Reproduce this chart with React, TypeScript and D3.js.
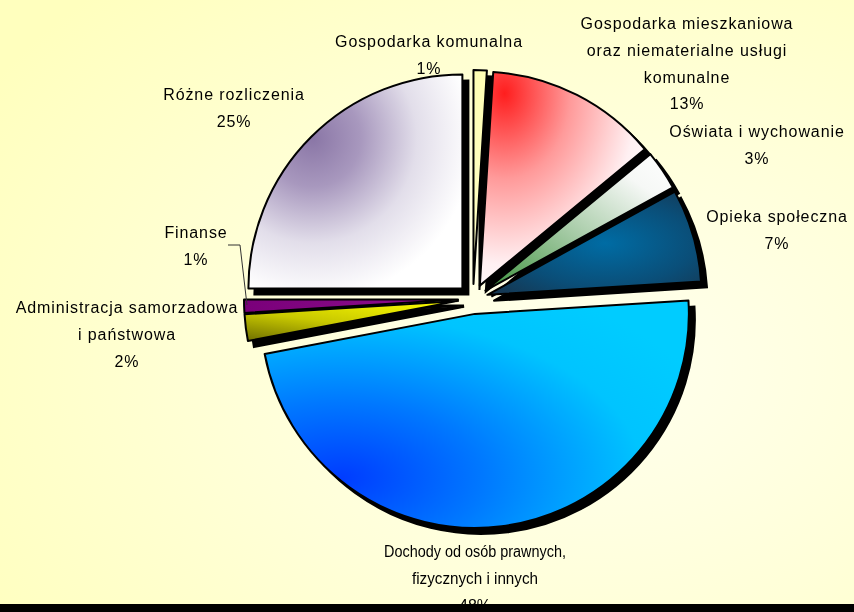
import React from "react";
import * as d3 from "d3";

const categories = [
  "Gospodarka komunalna",
  "Gospodarka mieszkaniowa oraz niematerialne usługi komunalne",
  "Oświata i wychowanie",
  "Opieka społeczna",
  "Dochody od osób prawnych, fizycznych i innych",
  "Administracja samorzadowa i państwowa",
  "Finanse",
  "Różne rozliczenia",
];
const values = [1, 13, 3, 7, 48, 2, 1, 25];
const labelLines = [
  ["Gospodarka komunalna", "1%"],
  ["Gospodarka mieszkaniowa", "oraz niematerialne usługi", "komunalne", "13%"],
  ["Oświata i wychowanie", "3%"],
  ["Opieka społeczna", "7%"],
  ["Dochody od osób prawnych,", "fizycznych i innych", "48%"],
  ["Administracja samorzadowa", "i państwowa", "2%"],
  ["Finanse", "1%"],
  ["Różne rozliczenia", "25%"],
];

// layout (not data)
const W = 854;
const H = 612;
const CX = 473;
const CY = 299;
const R = 214;
const EXPLODE = 15;
const labelPos: [number, number][] = [
  [429, 47],
  [687, 29],
  [757, 137],
  [777, 222],
  [475, 557],
  [127, 313],
  [196, 238],
  [234, 100],
];
const gradIds = ["gKom", "gMie", "gOsw", "gOpi", "gDoc", "gAdm", "gFin", "gRoz"];

export default function App() {
  const pie = d3
    .pie<number>()
    .sort(null)
    .value((d) => d)
    .startAngle(0)
    .endAngle(2 * Math.PI);
  const arcs = pie(values);
  const arc = d3.arc<d3.PieArcDatum<number>>().innerRadius(0).outerRadius(R);

  const offset = (a: d3.PieArcDatum<number>) => {
    const m = (a.startAngle + a.endAngle) / 2;
    return [CX + EXPLODE * Math.sin(m), CY - EXPLODE * Math.cos(m)];
  };

  return (
    <svg
      width={W}
      height={H}
      style={{ position: "fixed", left: 0, top: 0, display: "block" }}
      fontFamily="'Liberation Sans', Arial, sans-serif"
    >
      <defs>
        <radialGradient id="bg" cx="0.7" cy="0.6" r="0.85">
          <stop offset="0" stopColor="#FFFFEE" />
          <stop offset="0.5" stopColor="#FFFFD8" />
          <stop offset="1" stopColor="#FFFFBE" />
        </radialGradient>
        <linearGradient id="gKom" x1="0" y1="0" x2="0" y2="1">
          <stop offset="0" stopColor="#FFFFB4" />
          <stop offset="1" stopColor="#FFFFC8" />
        </linearGradient>
        <radialGradient id="gMie" cx="0.15" cy="0.1" r="1.0">
          <stop offset="0" stopColor="#FF1E1E" />
          <stop offset="0.4" stopColor="#FF9A9A" />
          <stop offset="0.8" stopColor="#FFF0F2" />
          <stop offset="1" stopColor="#FFFFFF" />
        </radialGradient>
        <linearGradient id="gOsw" x1="0" y1="1" x2="1" y2="0">
          <stop offset="0" stopColor="#3C923C" />
          <stop offset="0.45" stopColor="#A8CCA8" />
          <stop offset="0.8" stopColor="#F6F8F6" />
          <stop offset="1" stopColor="#FFFFFF" />
        </linearGradient>
        <radialGradient id="gOpi" cx="0.55" cy="0.5" r="0.7">
          <stop offset="0" stopColor="#006CA4" />
          <stop offset="0.6" stopColor="#0A4E78" />
          <stop offset="1" stopColor="#163650" />
        </radialGradient>
        <radialGradient id="gDoc" cx="0.18" cy="0.78" r="0.95">
          <stop offset="0" stopColor="#003CFF" />
          <stop offset="0.35" stopColor="#0078FF" />
          <stop offset="0.75" stopColor="#00C4FF" />
          <stop offset="1" stopColor="#00CCFF" />
        </radialGradient>
        <linearGradient id="gAdm" x1="0.7" y1="0" x2="0" y2="1">
          <stop offset="0" stopColor="#F4F400" />
          <stop offset="0.5" stopColor="#C8C800" />
          <stop offset="1" stopColor="#6E6E00" />
        </linearGradient>
        <linearGradient id="gFin" x1="0" y1="0" x2="1" y2="0">
          <stop offset="0" stopColor="#7A007A" />
          <stop offset="1" stopColor="#8E108E" />
        </linearGradient>
        <radialGradient id="gRoz" cx="0.3" cy="0.3" r="0.75">
          <stop offset="0" stopColor="#8A76A6" />
          <stop offset="0.3" stopColor="#A898BE" />
          <stop offset="0.65" stopColor="#E2DEEA" />
          <stop offset="1" stopColor="#FFFFFF" />
        </radialGradient>
      </defs>
      <rect x={0} y={0} width={W} height={H} fill="url(#bg)" />

      {/* shadows */}
      {arcs.map((a, i) => {
        const [x, y] = offset(a);
        return (
          <path
            key={"s" + i}
            d={arc(a) || ""}
            transform={`translate(${x + 6},${y + 6})`}
            fill="#000"
            stroke="#000"
            strokeWidth={2}
          />
        );
      })}
      {/* slices */}
      {arcs.map((a, i) => {
        const [x, y] = offset(a);
        return (
          <path
            key={"p" + i}
            d={arc(a) || ""}
            transform={`translate(${x},${y})`}
            fill={`url(#${gradIds[i]})`}
            stroke="#000"
            strokeWidth={2}
            strokeLinejoin="round"
          >
            <title>{categories[i]}</title>
          </path>
        );
      })}

      {/* leader line for Finanse */}
      <polyline
        points="228,245 240,245 247,305"
        fill="none"
        stroke="#333"
        strokeWidth={1}
      />

      {/* labels */}
      {labelLines.map((lines, i) => (
        <text
          key={"t" + i}
          fontSize={16}
          letterSpacing={i === 4 ? 0 : 0.9}
          fill="#000"
          textAnchor="middle"
        >
          {lines.map((ln, j) => (
            <tspan
              key={j}
              x={labelPos[i][0]}
              y={labelPos[i][1] + j * 26.8}
              {...(i === 4 && j < 2
                ? {
                    textLength: j === 0 ? 182 : 126,
                    lengthAdjust: "spacingAndGlyphs",
                    x: labelPos[i][0] - (j === 0 ? 91 : 63),
                    textAnchor: "start",
                  }
                : {})}
            >
              {ln}
            </tspan>
          ))}
        </text>
      ))}

      <rect x={0} y={604} width={W} height={8} fill="#000" />
    </svg>
  );
}
